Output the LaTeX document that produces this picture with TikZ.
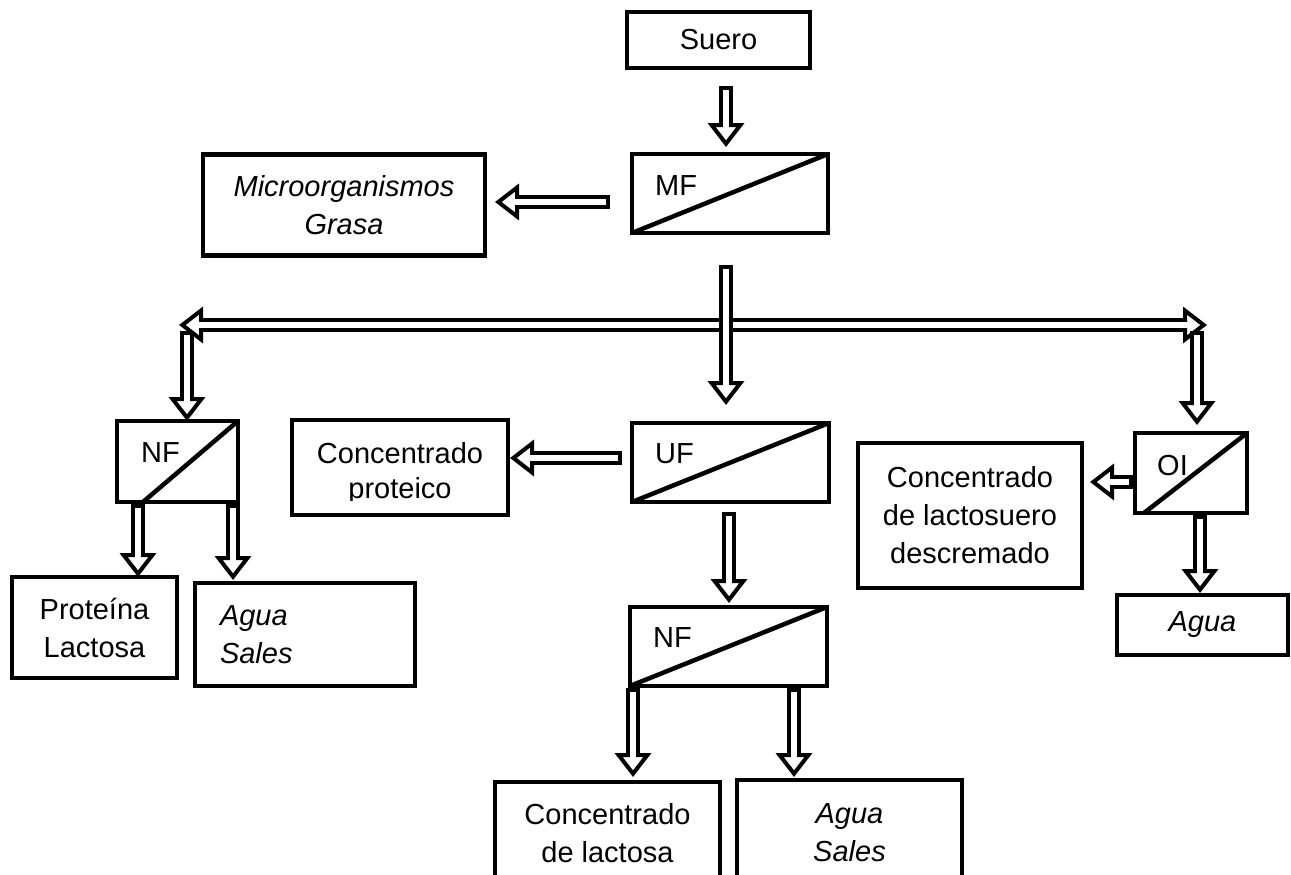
\documentclass[tikz,border=0pt]{standalone}
\usepackage{fontspec}
\setmainfont{Liberation Sans}
\usetikzlibrary{arrows.meta,calc}

\tikzset{
  txt/.style={font=\fontsize{29}{38}\selectfont},
  it/.style={font=\fontsize{29}{38}\selectfont\itshape},
  box/.style={draw, line width=4.5pt, rectangle, outer sep=0pt, inner sep=4pt, align=center},
  % membrane unit: rectangle crossed by a diagonal; #1 moves the lower end of the diagonal to the right
  membrane/.style={draw, line width=4.5pt, rectangle, outer sep=0pt, inner sep=0pt,
    path picture={\draw[line width=4.5pt] ($(path picture bounding box.south west)+(#1,0)$) -- (path picture bounding box.north east);}},
  membrane/.default=0,
  mlabel/.style={txt, anchor=base west, inner sep=0pt},
  % hollow block arrow: black outline shaft, white core, open head
  headtip/.style={Triangle[length=24pt,width=36pt,line width=4pt,fill=white]},
  flow/.style={draw=white, line width=6pt, shorten <=4pt, shorten >=12pt,
    preaction={draw=black, line width=14pt, shorten <=0pt, shorten >=0pt, -{Triangle[length=24pt,width=36pt,line width=4pt,fill=white]}}},
  flowboth/.style={draw=white, line width=6pt, shorten <=12pt, shorten >=12pt,
    preaction={draw=black, line width=14pt, shorten <=0pt, shorten >=0pt,
      {Triangle[length=24pt,width=36pt,line width=4pt,fill=white]}-{Triangle[length=24pt,width=36pt,line width=4pt,fill=white]}}},
}

\begin{document}
\begin{tikzpicture}[x=1pt,y=-1pt]
\clip (0,0) rectangle (1291,875);

% process boxes
\node[box, txt, minimum width=183pt, minimum height=56pt] (suero) at (718.5,40) {Suero};
\node[box, it, minimum width=282pt, minimum height=101pt] (micro) at (344,205) {Microorganismos\\Grasa};
\node[box, txt, minimum width=165pt, minimum height=101pt] (prot) at (94.5,627.5) {Proteína\\Lactosa};
\node[box, it, inner xsep=25pt, text width=170pt, align=left, minimum height=103pt] (aguasl) at (305,634.5) {Agua\\Sales};
\node[box, minimum width=216pt, minimum height=95pt] (cprot) at (400,467.5) {};
\begin{scope}
  \clip ($(cprot.north west)$) rectangle ($(cprot.south east)+(0,-15)$);
  \node[font=\fontsize{29}{35}\selectfont, align=center] (cprottxt) at ($(cprot.center)+(0,6)$) {Concentrado\\proteico};
\end{scope}
\node[box, txt, minimum width=224pt, minimum height=145pt] (cls) at (970,515.5) {Concentrado\\de lactosuero\\descremado};
\node[box, it, minimum width=171pt, minimum height=60pt] (aguar) at (1202.5,625) {Agua};
\node[box, txt, minimum width=225pt, minimum height=102pt] (clac) at (607.5,833) {Concentrado\\de lactosa};
\node[box, it, minimum width=225pt, minimum height=105pt] (aguasb) at (849.5,832.5) {Agua\\Sales};

% membrane units
\node[membrane, minimum width=196pt, minimum height=79pt] (mf) at (730,193.5) {};
\node[mlabel] (mft) at ($(mf.north west)+(23,41)$) {MF};
\node[membrane, minimum width=197pt, minimum height=79pt] (uf) at (730.5,462.5) {};
\node[mlabel] (uft) at ($(uf.north west)+(23,40)$) {UF};
\node[membrane=26, minimum width=121pt, minimum height=81pt] (nfl) at (177.5,461.5) {};
\node[mlabel] (nflt) at ($(nfl.north west)+(24,41)$) {NF};
\node[membrane=9, minimum width=112pt, minimum height=80pt] (oi) at (1191,473) {};
\node[mlabel] (oit) at ($(oi.north west)+(22,42)$) {OI};
\node[membrane, minimum width=197pt, minimum height=79pt] (nfc) at (728.5,646.5) {};
\node[mlabel] (nfct) at ($(nfc.north west)+(23,40)$) {NF};

% distribution line
\coordinate (hl) at (179,325);
\coordinate (hr) at (1207,325);
\coordinate (bl) at (187,331);
\coordinate (br) at (1197,331);

% flows
\draw[flow] ($(suero.south)+(7.5,18)$) -- ($(mf.north)+(-4,-7)$);
\draw[flow] ($(mf.west)+(-22,8.5)$) -- ($(micro.east)+(10,-3)$);
\draw[flowboth] (hl) -- (hr);
\draw[flow] ($(mf.south)+(-4,32)$) -- ($(uf.north)+(-4.5,-18)$);
\draw[flow] (bl) -- (bl |- nfl.north);
\draw[flow] (br) -- ($(br |- oi.north)+(0,-8)$);
\draw[flow] ($(uf.west)+(-10,-4.5)$) -- ($(cprot.east)+(2,-9.5)$);
\draw[flow] ($(uf.south)+(-1.5,10)$) -- ($(nfc.north)+(0.5,-4)$);
\draw[flow] ($(nfl.south)+(-39.5,2)$) -- ($(prot.north)+(43.5,0)$);
\draw[flow] ($(nfl.south)+(55.5,2)$) -- ($(aguasl.north)+(-72,-3)$);
\draw[flow] ($(oi.west)+(-2,9)$) -- ($(cls.east)+(8,-33.5)$);
\draw[flow] ($(oi.south)+(9,2)$) -- ($(aguar.north)+(-2.5,-2)$);
\draw[flow] ($(nfc.south west)+(3,2)$) -- ($(clac.north)+(25.5,-5)$);
\draw[flow] ($(nfc.south)+(65.5,2)$) -- ($(aguasb.north)+(-55.5,-3)$);
\end{tikzpicture}
\end{document}
